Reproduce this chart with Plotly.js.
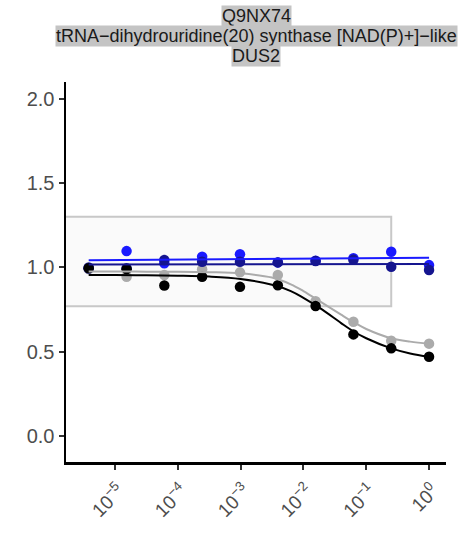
<!DOCTYPE html>
<html>
<head>
<meta charset="utf-8">
<script src="https://cdn.plot.ly/plotly-3.0.1.min.js"></script>
<style>html,body{margin:0;padding:0;background:#fff;}#chart{width:474px;height:533px;}</style>
</head>
<body>
<div id="chart"></div>
<script>
// Title lines
const titleLines = ["Q9NX74", "tRNA\u2212dihydrouridine(20) synthase [NAD(P)+]\u2212like", "DUS2"];

// Concentrations (4-fold dilution series)
const conc = [3.81e-6, 1.53e-5, 6.10e-5, 2.44e-4, 9.77e-4, 3.91e-3, 1.5625e-2, 6.25e-2, 0.25, 1];

// Measured points per series
const blackPts = [0.995, 0.990, 0.893, 0.945, 0.885, 0.894, 0.771, 0.603, 0.520, 0.470];
const grayPts  = [0.990, 0.945, 0.955, 0.989, 0.971, 0.955, 0.800, 0.678, 0.565, 0.548];
const bluePts  = [0.995, 1.097, 1.025, 1.064, 1.078, 1.030, 1.040, 1.055, 1.093, 1.014];
const navyPts  = [1.000, 0.995, 1.044, 1.034, 1.034, 1.030, 1.038, 1.045, 1.004, 0.985];

// Fitted curves
const curveConc  = [3.81e-6, 1e-5, 3.16e-5, 1e-4, 3.16e-4, 1e-3, 3.16e-3, 6.3e-3, 1e-2, 2e-2, 3.98e-2, 6.3e-2, 0.1, 0.25, 0.5, 1];
const blackCurve = [0.955, 0.955, 0.953, 0.951, 0.946, 0.932, 0.897, 0.860, 0.820, 0.750, 0.670, 0.620, 0.580, 0.520, 0.490, 0.470];
const grayCurve  = [0.976, 0.976, 0.975, 0.975, 0.972, 0.965, 0.940, 0.900, 0.860, 0.790, 0.720, 0.675, 0.635, 0.580, 0.560, 0.548];
const lineConc   = [3.81e-6, 1];
const blueLine   = [1.043, 1.058];
const navyLine   = [1.018, 1.020];

// Reference window
const boxX = [1e-8, 0.25];
const boxY = [0.77, 1.30];

const cBlack = '#000000', cGray = '#ababab', cBlue = '#1a1aff', cNavy = '#15158f';

function pts(y, c) {
  return {x: conc, y: y, type: 'scatter', mode: 'markers',
    marker: {color: c, size: 10.5}, hoverinfo: 'skip', showlegend: false};
}
function crv(x, y, c, sh) {
  return {x: x, y: y, type: 'scatter', mode: 'lines',
    line: {color: c, width: 2, shape: sh}, hoverinfo: 'skip', showlegend: false};
}

const data = [
  pts(grayPts, cGray),
  pts(bluePts, cBlue),
  pts(navyPts, cNavy),
  pts(blackPts, cBlack),
  crv(curveConc, grayCurve, cGray, 'spline'),
  crv(curveConc, blackCurve, cBlack, 'spline'),
  crv(lineConc, blueLine, cBlue, 'linear'),
  crv(lineConc, navyLine, cNavy, 'linear')
];

const titleY = [1.1737, 1.1211, 1.0684];
const annotations = titleLines.map((t, i) => ({
  text: t, xref: 'paper', yref: 'paper', x: 0.5, y: titleY[i],
  xanchor: 'center', yanchor: 'middle', showarrow: false,
  bgcolor: '#c4c4c4', borderpad: 0,
  font: {family: 'Liberation Sans, Arial, sans-serif', size: 18, color: '#1a1a1a'}
}));

const layout = {
  width: 474, height: 533,
  margin: {l: 66, r: 28, t: 82, b: 71},
  paper_bgcolor: '#ffffff', plot_bgcolor: '#ffffff',
  showlegend: false,
  font: {family: 'Liberation Sans, Arial, sans-serif'},
  xaxis: {
    type: 'log', range: [-5.78, 0.27],
    tickvals: [1e-5, 1e-4, 1e-3, 1e-2, 1e-1, 1],
    ticktext: ['10<sup>\u22125</sup>', '10<sup>\u22124</sup>', '10<sup>\u22123</sup>', '10<sup>\u22122</sup>', '10<sup>\u22121</sup>', '10<sup>0</sup>'],
    tickangle: -45,
    ticklabelshift: 4, ticklabelstandoff: 3,
    showline: true, linecolor: '#000', linewidth: 2.5,
    ticks: 'outside', ticklen: 5, tickwidth: 2, tickcolor: '#333',
    showgrid: false, zeroline: false,
    tickfont: {size: 19, color: '#4d4d4d'}
  },
  yaxis: {
    range: [-0.154, 2.10],
    tickvals: [0, 0.5, 1, 1.5, 2],
    ticktext: ['0.0', '0.5', '1.0', '1.5', '2.0'],
    showline: true, linecolor: '#000', linewidth: 2.5,
    ticks: 'outside', ticklen: 5, tickwidth: 2, tickcolor: '#333',
    showgrid: false, zeroline: false,
    tickfont: {size: 20, color: '#4d4d4d'}
  },
  shapes: [{
    type: 'rect', xref: 'x', yref: 'y', layer: 'below',
    x0: boxX[0], x1: boxX[1], y0: boxY[0], y1: boxY[1],
    fillcolor: '#fafafa', line: {color: '#c8c8c8', width: 2}
  }],
  annotations: annotations
};

Plotly.newPlot('chart', data, layout, {staticPlot: true, displayModeBar: false});
</script>
</body>
</html>
